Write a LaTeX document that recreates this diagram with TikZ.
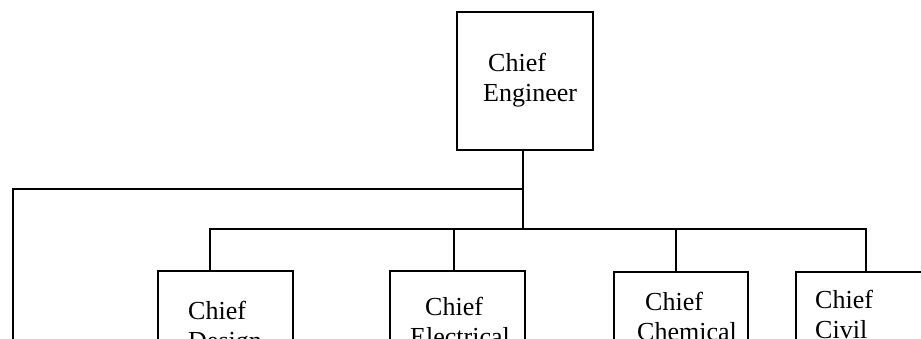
\documentclass[tikz,border=0pt]{standalone}
\usepackage{fontspec}
\setmainfont{Liberation Serif}
\begin{document}
\begin{tikzpicture}[x=1pt,y=-1pt,
  box/.style={draw, line width=2.2pt, inner sep=0pt, anchor=north west},
  conn/.style={line width=2.2pt},
  lbl/.style={font=\fontsize{26}{30}\selectfont, inner sep=0pt, anchor=base west}]
\useasboundingbox (0,0) rectangle (921,339);
\clip (0,0) rectangle (921,339);
% boxes
\node[box, minimum width=136pt, minimum height=138pt] (ce) at (456,11) {};
\node[box, minimum width=135pt, minimum height=140pt] (d) at (157,270) {};
\node[box, minimum width=135pt, minimum height=140pt] (e) at (389,270) {};
\node[box, minimum width=134pt, minimum height=140pt] (c) at (613,271) {};
\node[box, minimum width=135pt, minimum height=140pt] (v) at (795,271) {};
% labels
\node[lbl] (ce1) at (488,72) {Chief};
\node[lbl] (ce2) at (483,102) {Engineer};
\node[lbl] (d1) at (188,319) {Chief};
\node[lbl] (d2) at (188,349) {Design};
\node[lbl] (e1) at (425,315) {Chief};
\node[lbl] (e2) at (410,345) {Electrical};
\node[lbl] (c1) at (645,310) {Chief};
\node[lbl] (c2) at (637,340) {Chemical};
\node[lbl] (v1) at (815,308) {Chief};
\node[lbl] (v2) at (815,338) {Civil};
% connectors
\coordinate (top) at (0,189);
\coordinate (bus) at (0,229);
\coordinate (left) at (13,189);
\coordinate (leftend) at (13,345);
\draw[conn] ([xshift=-2pt]ce.south) -- ([xshift=-2pt]ce.south |- bus);
\draw[conn] ([xshift=-2pt]ce.south |- top) -- (left) -- (leftend);
\draw[conn] ([xshift=-15.5pt]d.north) -- ([xshift=-15.5pt]d.north |- bus) -| ([xshift=2pt]v.north);
\draw[conn] ([xshift=-3.5pt]e.north) -- ([xshift=-3.5pt]e.north |- bus);
\draw[conn] ([xshift=-5pt]c.north) -- ([xshift=-5pt]c.north |- bus);
\end{tikzpicture}
\end{document}
